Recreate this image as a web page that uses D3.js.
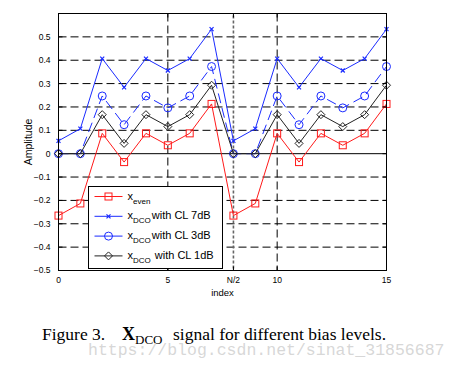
<!DOCTYPE html>
<html>
<head>
<meta charset="utf-8">
<script src="https://cdn.jsdelivr.net/npm/d3@7"></script>
<style>
  body { margin: 0; background: #fff; }
  svg { display: block; }
</style>
</head>
<body>
<div id="chart"></div>
<script>
// sample index and the four signals
const indices = [0, 1, 2, 3, 4, 5, 6, 7, 8, 9, 10, 11, 12, 13, 14, 15];
const xEven = [-0.265, -0.213, 0.087, -0.036, 0.087, 0.036, 0.087, 0.213, -0.265, -0.213, 0.087, -0.036, 0.087, 0.036, 0.087, 0.213];
const dcoCL7 = [0.055, 0.107, 0.407, 0.284, 0.407, 0.356, 0.407, 0.533, 0.055, 0.107, 0.407, 0.284, 0.407, 0.356, 0.407, 0.533];
const dcoCL3 = [0, 0, 0.247, 0.124, 0.247, 0.196, 0.247, 0.373, 0, 0, 0.247, 0.124, 0.247, 0.196, 0.247, 0.373];
const dcoCL1 = [0, 0, 0.167, 0.044, 0.167, 0.116, 0.167, 0.293, 0, 0, 0.167, 0.044, 0.167, 0.116, 0.167, 0.293];

const xTicks = [0, 5, 8, 10, 15];
const xTickLabels = ['0', '5', 'N/2', '10', '15'];
const yTicks = [-0.5, -0.4, -0.3, -0.2, -0.1, 0, 0.1, 0.2, 0.3, 0.4, 0.5];

const seriesNames = ['even', 'CL 7dB', 'CL 3dB', 'CL 1dB'];

const width = 460, height = 370;
const margin = { left: 58.5, right: 73.5, top: 13.5, bottom: 99.5 };
const pw = width - margin.left - margin.right;
const ph = height - margin.top - margin.bottom;

const svg = d3.select('#chart').append('svg')
    .attr('width', width)
    .attr('height', height)
    .style('font-family', '"Liberation Sans", Arial, sans-serif');

const g = svg.append('g').attr('transform', `translate(${margin.left},${margin.top})`);

const x = d3.scaleLinear().domain([0, 15]).range([0, pw]);
const y = d3.scaleLinear().domain([-0.5, 0.6]).range([ph, 0]);

// grid
g.append('g').selectAll('line')
    .data(yTicks.filter(v => v !== 0 && v !== -0.5))
    .join('line')
    .attr('x1', 0).attr('x2', pw)
    .attr('y1', d => y(d)).attr('y2', d => y(d))
    .attr('stroke', '#000').attr('stroke-width', 1)
    .attr('stroke-dasharray', '8,4');

g.append('g').selectAll('line')
    .data([5, 10])
    .join('line')
    .attr('x1', d => x(d)).attr('x2', d => x(d))
    .attr('y1', 0).attr('y2', ph)
    .attr('stroke', '#000').attr('stroke-width', 1)
    .attr('stroke-dasharray', '8,4');

// zero line
g.append('line')
    .attr('x1', 0).attr('x2', pw)
    .attr('y1', y(0)).attr('y2', y(0))
    .attr('stroke', '#000').attr('stroke-width', 1);

// N/2 marker line
g.append('line')
    .attr('x1', x(8)).attr('x2', x(8))
    .attr('y1', 2).attr('y2', ph)
    .attr('stroke', '#666').attr('stroke-width', 1.6)
    .attr('stroke-dasharray', '3,2');

const line = d3.line().x((d, i) => x(indices[i])).y(d => y(d));

function drawSeries(values, color, dash, marker) {
    const sg = g.append('g');
    sg.append('path')
        .datum(values)
        .attr('d', line)
        .attr('fill', 'none')
        .attr('stroke', color)
        .attr('stroke-width', 1)
        .attr('stroke-dasharray', dash);
    sg.selectAll('g.m')
        .data(values)
        .join('g')
        .attr('transform', (d, i) => `translate(${x(indices[i])},${y(d)})`)
        .each(function() { marker(d3.select(this), color); });
}

function square(sel, color) {
    sel.append('rect').attr('x', -3.5).attr('y', -3.5).attr('width', 7).attr('height', 7)
        .attr('fill', 'none').attr('stroke', color).attr('stroke-width', 1);
}
function cross(sel, color) {
    sel.append('path').attr('d', 'M-2,-2L2,2M-2,2L2,-2')
        .attr('stroke', color).attr('stroke-width', 1.2);
}
function circle(sel, color) {
    sel.append('circle').attr('r', 4)
        .attr('fill', 'none').attr('stroke', color).attr('stroke-width', 1);
}
function diamond(sel, color) {
    sel.append('path').attr('d', 'M0,-4L4,0L0,4L-4,0Z')
        .attr('fill', 'none').attr('stroke', color).attr('stroke-width', 1);
}

const red = '#ff1a1a', blue = '#1a2bff', black = '#222';
drawSeries(xEven, red, null, square);
drawSeries(dcoCL7, blue, null, cross);
drawSeries(dcoCL3, blue, '10,5', circle);
drawSeries(dcoCL1, black, null, diamond);

// axes box and ticks
g.append('rect').attr('width', pw).attr('height', ph)
    .attr('fill', 'none').attr('stroke', '#000').attr('stroke-width', 1);

const tickLen = 4;
g.append('g').selectAll('line')
    .data(yTicks)
    .join('line')
    .attr('x1', 0).attr('x2', tickLen)
    .attr('y1', d => y(d)).attr('y2', d => y(d))
    .attr('stroke', '#000');
g.append('g').selectAll('line')
    .data(yTicks)
    .join('line')
    .attr('x1', pw - tickLen).attr('x2', pw)
    .attr('y1', d => y(d)).attr('y2', d => y(d))
    .attr('stroke', '#000');
g.append('g').selectAll('line')
    .data(xTicks)
    .join('line')
    .attr('x1', d => x(d)).attr('x2', d => x(d))
    .attr('y1', ph).attr('y2', ph - tickLen)
    .attr('stroke', '#000');
g.append('g').selectAll('line')
    .data(xTicks)
    .join('line')
    .attr('x1', d => x(d)).attr('x2', d => x(d))
    .attr('y1', 0).attr('y2', tickLen)
    .attr('stroke', '#000');

g.append('g').selectAll('text')
    .data(yTicks)
    .join('text')
    .attr('x', -8)
    .attr('y', d => y(d))
    .attr('dy', '0.35em')
    .attr('text-anchor', 'end')
    .style('font-size', '8.5px')
    .text(d => d === 0 ? '0' : d3.format('.1f')(d));

g.append('g').selectAll('text')
    .data(xTicks)
    .join('text')
    .attr('x', d => x(d))
    .attr('y', ph + 12)
    .attr('text-anchor', 'middle')
    .style('font-size', '8.5px')
    .text((d, i) => xTickLabels[i]);

g.append('text')
    .attr('x', pw / 2)
    .attr('y', ph + 25)
    .attr('text-anchor', 'middle')
    .style('font-size', '9.5px')
    .text('index');

g.append('text')
    .attr('transform', `translate(${-27},${ph / 2}) rotate(-90)`)
    .attr('text-anchor', 'middle')
    .style('font-size', '10.5px')
    .text('Amplitude');

// legend
const lg = svg.append('g').attr('transform', 'translate(88.5,186.5)');
lg.append('rect').attr('width', 134).attr('height', 82)
    .attr('fill', '#fff').attr('stroke', '#000').attr('stroke-width', 1);

const legendItems = [
    { name: seriesNames[0], sub: 'even', color: red, marker: square },
    { name: seriesNames[1], sub: 'DCO', color: blue, marker: cross },
    { name: seriesNames[2], sub: 'DCO', color: blue, marker: circle },
    { name: seriesNames[3], sub: 'DCO', color: black, marker: diamond }
];

legendItems.forEach((it, i) => {
    const row = lg.append('g').attr('transform', `translate(0,${10 + i * 19.8})`);
    row.append('line').attr('x1', 6).attr('x2', 34)
        .attr('stroke', it.color).attr('stroke-width', 1);
    it.marker(row.append('g').attr('transform', 'translate(20,0)'), it.color);
    const t = row.append('text').attr('x', 39).attr('y', 3).style('font-size', '11px');
    t.append('tspan').text('x');
    t.append('tspan').attr('dy', 4).style('font-size', '8px').text(it.sub);
    if (i > 0) {
        t.append('tspan').attr('dy', -4).attr('dx', i === 3 ? 4 : 1).text('with ' + it.name);
    }
});

// caption
const cap = svg.append('text')
    .attr('x', 42)
    .attr('y', 340)
    .style('font-family', '"Liberation Serif", "Times New Roman", serif')
    .style('font-size', '17.5px')
    .attr('fill', '#000');
cap.append('tspan').text('Figure 3.');
cap.append('tspan').attr('x', 122).style('font-weight', 'bold').style('font-size', '18px').text('X');
cap.append('tspan').attr('dy', 4).style('font-size', '13px').text('DCO');
cap.append('tspan').attr('dy', -4).attr('x', 173).text('signal for different bias levels.');

// watermark
svg.append('text')
    .attr('x', 88)
    .attr('y', 355)
    .style('font-family', '"Liberation Mono", "DejaVu Sans Mono", monospace')
    .style('font-size', '16.5px')
    .attr('fill', '#d0d0d0')
    .attr('fill-opacity', 0.85)
    .text('https://blog.csdn.net/sinat_31856687');
</script>
</body>
</html>
